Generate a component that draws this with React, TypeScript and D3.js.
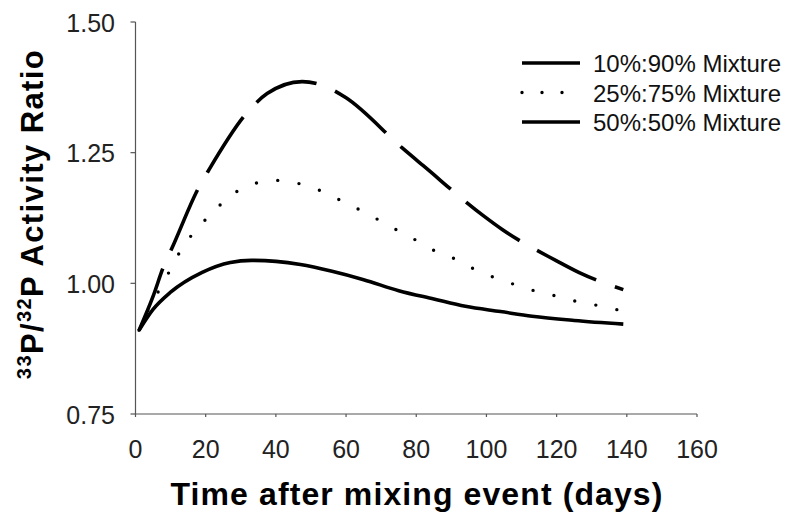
import React, { useEffect, useRef } from "react";
import * as d3 from "d3";

// days / ratio
const mix10Days = [1, 5, 8, 10.5, 18, 21, 32.5, 37.5, 47.5, 55, 60, 76, 82, 99, 104.5, 120, 126.6, 139];
const mix10Ratio = [0.91, 0.975, 1.032, 1.069, 1.183, 1.218, 1.332, 1.363, 1.386, 1.374, 1.355, 1.259, 1.225, 1.13, 1.103, 1.043, 1.02, 0.988];

const mix25Days = [1, 4, 7, 10, 13.4, 17.7, 23, 28.5, 34, 40, 45, 51, 56.5, 62, 68, 73.6, 79, 84.4, 90, 96, 101.5, 107, 113, 119, 124, 130, 135.5, 139];
const mix25Ratio = [0.91, 0.955, 0.99, 1.027, 1.069, 1.105, 1.143, 1.174, 1.191, 1.197, 1.193, 1.182, 1.165, 1.147, 1.126, 1.105, 1.086, 1.065, 1.05, 1.029, 1.013, 1.0, 0.987, 0.977, 0.968, 0.96, 0.952, 0.947];

const mix50Days = [1, 5, 10, 19, 27, 33, 40, 47, 56, 65, 75, 85, 94, 104, 113, 125, 139];
const mix50Ratio = [0.91, 0.95, 0.983, 1.021, 1.04, 1.044, 1.042, 1.036, 1.023, 1.007, 0.986, 0.97, 0.956, 0.946, 0.937, 0.929, 0.922];

const xTicks = [0, 20, 40, 60, 80, 100, 120, 140, 160];
const yTicks = [0.75, 1.0, 1.25, 1.5];
const legendLabels = ["10%:90% Mixture", "25%:75% Mixture", "50%:50% Mixture"];

const FONT = "'Liberation Sans', Arial, Helvetica, sans-serif";

const App = () => {
  const ref = useRef<SVGSVGElement | null>(null);

  useEffect(() => {
    const svg = d3.select(ref.current);
    svg.selectAll("*").remove();

    const x = d3.scaleLinear().domain([0, 160]).range([135.5, 697]);
    const y = d3.scaleLinear().domain([0.75, 1.5]).range([414, 22]);

    const styles = [
      { dash: "66 20", cap: "butt", width: 3.6 },
      { dash: "0 21.5", cap: "round", width: 3.4 },
      { dash: null, cap: "butt", width: 3.6 },
    ];

    const series = [
      d3.zip(mix10Days, mix10Ratio),
      d3.zip(mix25Days, mix25Ratio),
      d3.zip(mix50Days, mix50Ratio),
    ];

    // axes
    const axisColor = "#555";
    svg.append("line")
      .attr("x1", x(0)).attr("x2", x(0))
      .attr("y1", y(1.5)).attr("y2", y(0.75))
      .attr("stroke", axisColor).attr("stroke-width", 1.2);
    svg.append("line")
      .attr("x1", x(0)).attr("x2", x(160))
      .attr("y1", y(0.75)).attr("y2", y(0.75))
      .attr("stroke", axisColor).attr("stroke-width", 1.2);

    svg.selectAll(".ytick")
      .data(yTicks)
      .join("line")
      .attr("x1", x(0) - 5).attr("x2", x(0))
      .attr("y1", (d) => y(d)).attr("y2", (d) => y(d))
      .attr("stroke", axisColor).attr("stroke-width", 1.2);

    svg.selectAll(".xtick")
      .data(xTicks)
      .join("line")
      .attr("x1", (d) => x(d)).attr("x2", (d) => x(d))
      .attr("y1", y(0.75)).attr("y2", y(0.75) + 3)
      .attr("stroke", axisColor).attr("stroke-width", 1.2);

    svg.selectAll(".ylab")
      .data(yTicks)
      .join("text")
      .attr("x", 115)
      .attr("y", (d) => y(d) + 9.5)
      .attr("text-anchor", "end")
      .attr("font-family", FONT)
      .attr("font-size", 25)
      .attr("fill", "#222")
      .text((d) => d3.format(".2f")(d));

    svg.selectAll(".xlab")
      .data(xTicks)
      .join("text")
      .attr("x", (d) => x(d))
      .attr("y", 458)
      .attr("text-anchor", "middle")
      .attr("font-family", FONT)
      .attr("font-size", 25)
      .attr("fill", "#222")
      .text((d) => d);

    // curves
    const line = d3.line<[number, number]>()
      .x((d) => x(d[0]))
      .y((d) => y(d[1]))
      .curve(d3.curveMonotoneX);

    series.forEach((s, i) => {
      svg.append("path")
        .attr("d", line(s as [number, number][]))
        .attr("fill", "none")
        .attr("stroke", "#000")
        .attr("stroke-width", styles[i].width)
        .attr("stroke-linecap", styles[i].cap)
        .attr("stroke-linejoin", "round")
        .attr("stroke-dasharray", styles[i].dash);
    });

    // legend
    const legend = svg.append("g");
    legendLabels.forEach((lab, i) => {
      const ly = 63 + i * 29.5;
      legend.append("line")
        .attr("x1", 522).attr("x2", i === 1 ? 563 : 580)
        .attr("y1", ly).attr("y2", ly)
        .attr("stroke", "#000")
        .attr("stroke-width", i === 1 ? 3.4 : 3.6)
        .attr("stroke-linecap", i === 1 ? "round" : "butt")
        .attr("stroke-dasharray", i === 1 ? "0 20" : null);
      legend.append("text")
        .attr("x", 593).attr("y", ly + 9)
        .attr("font-family", FONT)
        .attr("font-size", 24)
        .attr("fill", "#111")
        .text(lab);
    });

    // axis titles
    svg.append("text")
      .attr("x", 417).attr("y", 505)
      .attr("text-anchor", "middle")
      .attr("font-family", FONT)
      .attr("font-weight", "bold")
      .attr("font-size", 32)
      .attr("letter-spacing", 1.1)
      .attr("fill", "#000")
      .text("Time after mixing event (days)");

    const yt = svg.append("text")
      .attr("transform", "translate(43,214) rotate(-90)")
      .attr("text-anchor", "middle")
      .attr("font-family", FONT)
      .attr("font-weight", "bold")
      .attr("font-size", 31)
      .attr("letter-spacing", 1.4)
      .attr("fill", "#000");
    yt.append("tspan").attr("font-size", 20).attr("dy", -12).text("33");
    yt.append("tspan").attr("dy", 12).text("P/");
    yt.append("tspan").attr("font-size", 20).attr("dy", -12).text("32");
    yt.append("tspan").attr("dy", 12).text("P Activity Ratio");
  }, []);

  return (
    <svg
      ref={ref}
      width={789}
      height={518}
      style={{ position: "absolute", left: 0, top: 0, background: "#fff" }}
    />
  );
};

export default App;
